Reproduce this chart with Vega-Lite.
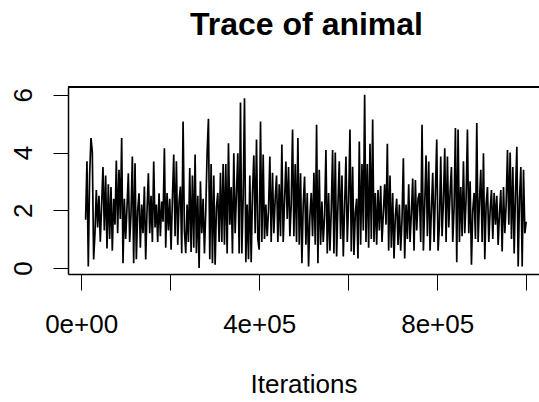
{
  "$schema": "https://vega.github.io/schema/vega-lite/v6.json",
  "autosize": "none",
  "width": 471,
  "height": 187,
  "padding": {"left": 68, "top": 87, "right": 0, "bottom": 128},
  "background": "white",
  "config": {
    "view": {"stroke": null},
    "font": "Liberation Sans"
  },
  "title": {
    "text": "Trace of animal",
    "font": "Liberation Sans",
    "fontSize": 32,
    "fontWeight": "bold",
    "color": "black",
    "anchor": "middle",
    "frame": "group",
    "baseline": "alphabetic",
    "offset": 19,
    "dx": 3
  },
  "data": {
    "values": [
      {"i":10000,"v":1.67},{"i":13000,"v":3.7},{"i":16000,"v":0.05},{"i":19000,"v":3.2},{"i":22000,"v":4.5},
      {"i":25000,"v":4.03},{"i":28000,"v":0.29},{"i":31000,"v":1.2},{"i":34000,"v":2.7},{"i":37000,"v":1.4},
      {"i":40000,"v":2.5},{"i":43000,"v":0.91},{"i":46000,"v":2.2},{"i":49000,"v":3.5},{"i":52000,"v":1.3},
      {"i":55000,"v":3.2},{"i":58000,"v":0.67},{"i":61000,"v":2.9},{"i":64000,"v":1.0},{"i":67000,"v":2.8},
      {"i":70000,"v":0.6},{"i":73000,"v":2.4},{"i":76000,"v":1.5},{"i":79000,"v":3.72},{"i":82000,"v":1.2},
      {"i":85000,"v":3.4},{"i":88000,"v":1.7},{"i":91000,"v":4.5},{"i":94000,"v":0.16},{"i":97000,"v":2.4},
      {"i":100000,"v":1.0},{"i":103000,"v":2.1},{"i":106000,"v":3.28},{"i":109000,"v":0.9},{"i":112000,"v":1.9},
      {"i":115000,"v":3.86},{"i":118000,"v":0.16},{"i":121000,"v":3.63},{"i":124000,"v":0.3},{"i":127000,"v":2.0},
      {"i":130000,"v":2.59},{"i":133000,"v":0.7},{"i":136000,"v":2.2},{"i":139000,"v":1.2},{"i":142000,"v":2.82},
      {"i":145000,"v":0.29},{"i":148000,"v":2.0},{"i":151000,"v":3.28},{"i":154000,"v":1.2},{"i":157000,"v":2.5},
      {"i":160000,"v":0.9},{"i":163000,"v":3.69},{"i":166000,"v":1.4},{"i":169000,"v":2.2},{"i":172000,"v":0.9},
      {"i":175000,"v":2.59},{"i":178000,"v":1.1},{"i":181000,"v":2.3},{"i":184000,"v":1.6},{"i":187000,"v":4.15},
      {"i":190000,"v":0.7},{"i":193000,"v":2.6},{"i":196000,"v":1.3},{"i":199000,"v":2.4},{"i":202000,"v":0.63},
      {"i":205000,"v":2.37},{"i":208000,"v":3.93},{"i":211000,"v":1.1},{"i":214000,"v":3.7},{"i":217000,"v":0.8},
      {"i":220000,"v":2.3},{"i":223000,"v":2.82},{"i":226000,"v":0.51},{"i":229000,"v":5.07},{"i":232000,"v":1.3},
      {"i":235000,"v":0.51},{"i":238000,"v":2.2},{"i":241000,"v":0.9},{"i":244000,"v":3.46},{"i":247000,"v":0.55},
      {"i":250000,"v":3.2},{"i":253000,"v":0.7},{"i":256000,"v":3.93},{"i":259000,"v":0.51},{"i":262000,"v":2.5},
      {"i":265000,"v":0.0},{"i":268000,"v":3.0},{"i":271000,"v":1.2},{"i":274000,"v":2.4},{"i":277000,"v":0.5},
      {"i":280000,"v":2.0},{"i":283000,"v":3.97},{"i":286000,"v":5.17},{"i":289000,"v":0.3},{"i":292000,"v":3.6},
      {"i":295000,"v":0.16},{"i":298000,"v":3.2},{"i":301000,"v":0.11},{"i":304000,"v":2.1},{"i":307000,"v":2.6},
      {"i":310000,"v":0.9},{"i":313000,"v":3.3},{"i":316000,"v":0.9},{"i":319000,"v":3.6},{"i":322000,"v":0.8},
      {"i":325000,"v":3.6},{"i":328000,"v":0.5},{"i":331000,"v":4.32},{"i":334000,"v":1.5},{"i":337000,"v":2.8},
      {"i":340000,"v":0.5},{"i":343000,"v":3.97},{"i":346000,"v":1.2},{"i":349000,"v":2.6},{"i":352000,"v":3.97},
      {"i":355000,"v":0.5},{"i":358000,"v":5.73},{"i":361000,"v":0.5},{"i":364000,"v":2.4},{"i":367000,"v":5.88},
      {"i":370000,"v":0.2},{"i":373000,"v":2.2},{"i":376000,"v":0.3},{"i":379000,"v":3.2},{"i":382000,"v":0.2},
      {"i":385000,"v":2.6},{"i":388000,"v":3.9},{"i":391000,"v":1.2},{"i":394000,"v":4.45},{"i":397000,"v":1.0},
      {"i":400000,"v":0.63},{"i":403000,"v":5.07},{"i":406000,"v":0.9},{"i":409000,"v":3.93},{"i":412000,"v":1.0},
      {"i":415000,"v":2.2},{"i":418000,"v":1.1},{"i":421000,"v":2.0},{"i":424000,"v":3.86},{"i":427000,"v":0.9},
      {"i":430000,"v":3.3},{"i":433000,"v":1.2},{"i":436000,"v":2.4},{"i":439000,"v":3.2},{"i":442000,"v":0.9},
      {"i":445000,"v":2.9},{"i":448000,"v":1.1},{"i":451000,"v":4.28},{"i":454000,"v":0.9},{"i":457000,"v":2.3},
      {"i":460000,"v":3.69},{"i":463000,"v":1.7},{"i":466000,"v":3.5},{"i":469000,"v":1.1},{"i":472000,"v":2.2},
      {"i":475000,"v":4.8},{"i":478000,"v":1.1},{"i":481000,"v":3.6},{"i":484000,"v":0.9},{"i":487000,"v":4.5},
      {"i":490000,"v":0.8},{"i":493000,"v":3.28},{"i":496000,"v":0.16},{"i":499000,"v":2.2},{"i":502000,"v":3.17},
      {"i":505000,"v":0.8},{"i":508000,"v":2.6},{"i":511000,"v":0.05},{"i":514000,"v":1.8},{"i":517000,"v":2.6},
      {"i":520000,"v":1.1},{"i":523000,"v":3.3},{"i":526000,"v":0.8},{"i":529000,"v":4.96},{"i":532000,"v":0.16},
      {"i":535000,"v":3.4},{"i":538000,"v":0.8},{"i":541000,"v":2.3},{"i":544000,"v":0.9},{"i":547000,"v":1.8},
      {"i":550000,"v":4.09},{"i":553000,"v":0.5},{"i":556000,"v":2.6},{"i":559000,"v":0.6},{"i":562000,"v":2.0},
      {"i":565000,"v":4.09},{"i":568000,"v":0.5},{"i":571000,"v":4.0},{"i":574000,"v":0.4},{"i":577000,"v":2.2},
      {"i":580000,"v":3.7},{"i":583000,"v":1.0},{"i":586000,"v":3.2},{"i":589000,"v":0.4},{"i":592000,"v":2.1},
      {"i":595000,"v":3.86},{"i":598000,"v":0.9},{"i":601000,"v":2.3},{"i":604000,"v":4.8},{"i":607000,"v":0.57},
      {"i":610000,"v":3.51},{"i":613000,"v":0.45},{"i":616000,"v":1.9},{"i":619000,"v":2.4},{"i":622000,"v":0.33},
      {"i":625000,"v":4.38},{"i":628000,"v":0.8},{"i":631000,"v":3.6},{"i":634000,"v":1.3},{"i":637000,"v":6.0},
      {"i":640000,"v":0.9},{"i":643000,"v":3.6},{"i":646000,"v":0.7},{"i":649000,"v":4.3},{"i":652000,"v":1.0},
      {"i":655000,"v":5.14},{"i":658000,"v":0.9},{"i":661000,"v":2.6},{"i":664000,"v":0.8},{"i":667000,"v":2.7},
      {"i":670000,"v":1.3},{"i":673000,"v":2.85},{"i":676000,"v":0.9},{"i":679000,"v":1.9},{"i":682000,"v":2.9},
      {"i":685000,"v":1.5},{"i":688000,"v":4.3},{"i":691000,"v":0.6},{"i":694000,"v":3.2},{"i":697000,"v":0.7},
      {"i":700000,"v":2.6},{"i":703000,"v":0.33},{"i":706000,"v":1.8},{"i":709000,"v":2.4},{"i":712000,"v":0.8},
      {"i":715000,"v":2.2},{"i":718000,"v":0.6},{"i":721000,"v":1.7},{"i":724000,"v":3.8},{"i":727000,"v":0.33},
      {"i":730000,"v":2.2},{"i":733000,"v":1.0},{"i":736000,"v":2.9},{"i":739000,"v":0.9},{"i":742000,"v":1.9},
      {"i":745000,"v":3.1},{"i":748000,"v":0.6},{"i":751000,"v":3.05},{"i":754000,"v":1.3},{"i":757000,"v":2.4},
      {"i":760000,"v":2.6},{"i":763000,"v":0.9},{"i":766000,"v":4.96},{"i":769000,"v":0.6},{"i":772000,"v":2.2},
      {"i":775000,"v":3.9},{"i":778000,"v":1.1},{"i":781000,"v":3.69},{"i":784000,"v":0.6},{"i":787000,"v":2.0},
      {"i":790000,"v":3.3},{"i":793000,"v":0.9},{"i":796000,"v":2.6},{"i":799000,"v":4.45},{"i":802000,"v":0.6},
      {"i":805000,"v":1.5},{"i":808000,"v":3.86},{"i":811000,"v":1.1},{"i":814000,"v":2.3},{"i":817000,"v":4.15},
      {"i":820000,"v":0.9},{"i":823000,"v":3.86},{"i":826000,"v":1.4},{"i":829000,"v":2.6},{"i":832000,"v":3.5},
      {"i":835000,"v":0.9},{"i":838000,"v":2.1},{"i":841000,"v":4.85},{"i":844000,"v":0.2},{"i":847000,"v":4.8},
      {"i":850000,"v":0.9},{"i":853000,"v":2.8},{"i":856000,"v":1.1},{"i":859000,"v":3.7},{"i":862000,"v":1.2},
      {"i":865000,"v":2.4},{"i":868000,"v":4.8},{"i":871000,"v":1.2},{"i":874000,"v":3.0},{"i":877000,"v":0.11},
      {"i":880000,"v":2.0},{"i":883000,"v":2.6},{"i":886000,"v":1.0},{"i":889000,"v":5.02},{"i":892000,"v":0.9},
      {"i":895000,"v":2.3},{"i":898000,"v":3.4},{"i":901000,"v":0.9},{"i":904000,"v":3.97},{"i":907000,"v":0.3},
      {"i":910000,"v":2.2},{"i":913000,"v":2.8},{"i":916000,"v":0.9},{"i":919000,"v":2.0},{"i":922000,"v":2.7},
      {"i":925000,"v":1.0},{"i":928000,"v":2.6},{"i":931000,"v":1.5},{"i":934000,"v":2.5},{"i":937000,"v":0.8},
      {"i":940000,"v":1.9},{"i":943000,"v":2.7},{"i":946000,"v":0.57},{"i":949000,"v":2.8},{"i":952000,"v":1.2},
      {"i":955000,"v":2.2},{"i":958000,"v":4.09},{"i":961000,"v":1.5},{"i":964000,"v":4.0},{"i":967000,"v":1.0},
      {"i":970000,"v":3.5},{"i":973000,"v":0.5},{"i":976000,"v":2.6},{"i":979000,"v":4.2},{"i":982000,"v":0.05},
      {"i":985000,"v":2.4},{"i":988000,"v":3.5},{"i":991000,"v":0.05},{"i":994000,"v":3.4},{"i":997000,"v":1.2},
      {"i":1000000,"v":1.6}
    ]
  },
  "layer": [
    {
      "mark": {"type": "line", "color": "black", "strokeWidth": 1.7, "clip": true},
      "encoding": {
        "x": {
          "field": "i",
          "type": "quantitative",
          "scale": {"domain": [-29600, 1028800], "nice": false, "zero": false},
          "axis": {
            "values": [0, 200000, 400000, 600000, 800000, 1000000],
            "labelExpr": "datum.value == 0 ? '0e+00' : datum.value == 400000 ? '4e+05' : datum.value == 800000 ? '8e+05' : ''",
            "grid": false,
            "domainColor": "black",
            "domainWidth": 1.5,
            "tickColor": "black",
            "tickWidth": 1,
            "tickSize": 16,
            "labelFont": "Liberation Sans",
            "labelFontSize": 26,
            "labelColor": "black",
            "labelPadding": 21,
            "labelFlush": false,
            "labelOverlap": false,
            "title": "Iterations",
            "titleFont": "Liberation Sans",
            "titleFontSize": 26,
            "titleFontWeight": "normal",
            "titleColor": "black",
            "titlePadding": 34
          }
        },
        "y": {
          "field": "v",
          "type": "quantitative",
          "scale": {"domain": [-0.21, 6.27], "nice": false, "zero": false},
          "axis": {
            "values": [0, 1, 2, 3, 4, 5, 6],
            "labelExpr": "datum.value % 2 == 0 ? datum.label : ''",
            "grid": false,
            "domainColor": "black",
            "domainWidth": 1.5,
            "tickColor": "black",
            "tickWidth": 1,
            "tickSize": 15,
            "labelFont": "Liberation Sans",
            "labelFontSize": 26,
            "labelColor": "black",
            "labelAngle": -90,
            "labelAlign": "center",
            "labelBaseline": "alphabetic",
            "labelPadding": 21.5,
            "labelFlush": false,
            "labelOverlap": false,
            "title": null
          }
        }
      }
    },
    {
      "mark": {"type": "rule", "color": "black", "strokeWidth": 1.5},
      "encoding": {"y": {"datum": 6.27}}
    }
  ]
}
